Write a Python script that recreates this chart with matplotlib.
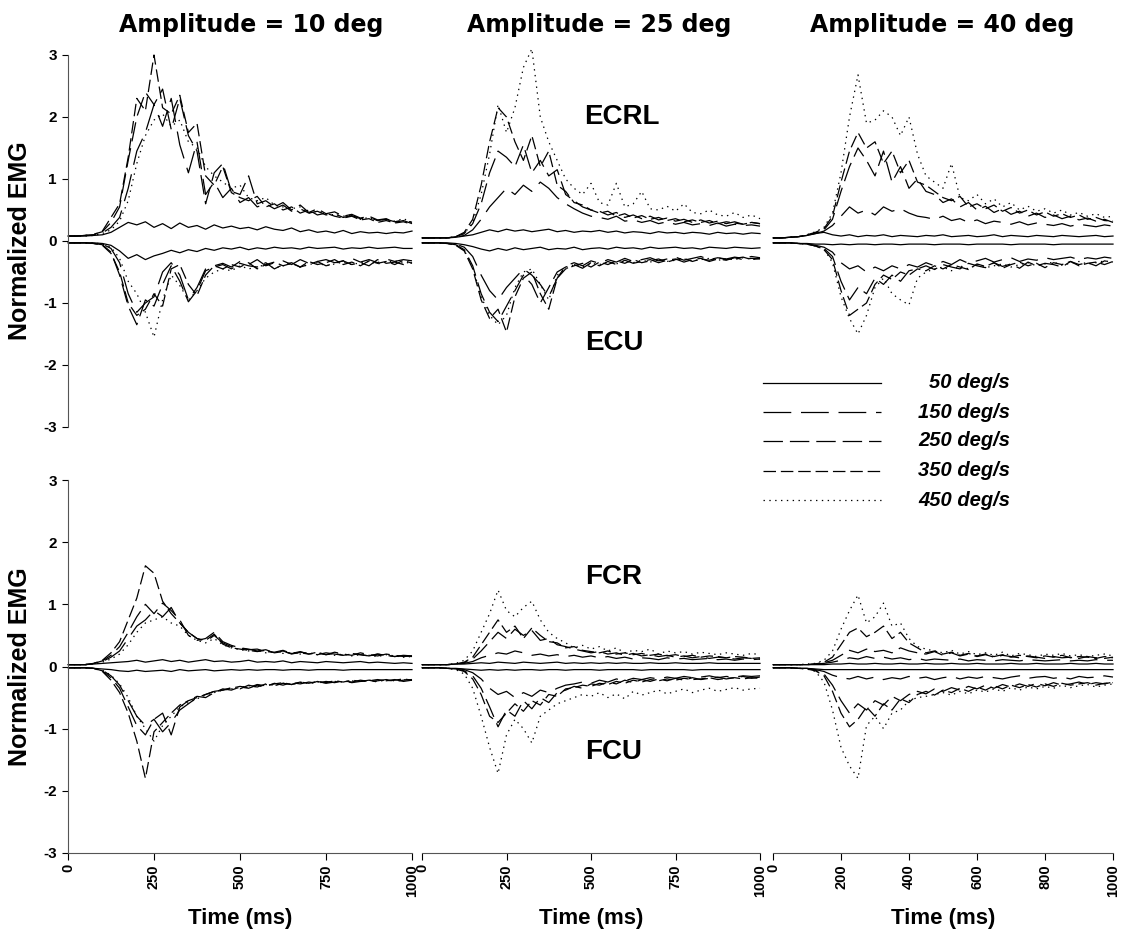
import matplotlib
matplotlib.use('Agg')
import matplotlib.pyplot as plt

plt.rcParams['font.family'] = ['Liberation Sans', 'DejaVu Sans']
plt.rcParams['lines.scale_dashes'] = False

# ---- data (normalized EMG) ----
time_ms = [0, 25, 50, 75, 100, 125, 150, 175, 200, 225, 250, 275, 300, 325, 350, 375, 400,
           425, 450, 475, 500, 525, 550, 575, 600, 625, 650, 675, 700, 725, 750, 775, 800,
           825, 850, 875, 900, 925, 950, 975, 1000]

speed_labels = ['50 deg/s', '150 deg/s', '250 deg/s', '350 deg/s', '450 deg/s']
amplitude_titles = ['Amplitude = 10 deg', 'Amplitude = 25 deg', 'Amplitude = 40 deg']
x_ticks_250 = [0, 250, 500, 750, 1000]
x_ticks_200 = [0, 200, 400, 600, 800, 1000]
y_ticks = [-3, -2, -1, 0, 1, 2, 3]
y_tick_labels = ['-3', '-2', '-1', '0', '1', '2', '3']

# amplitude 10 deg - ECRL (up) / ECU (down)
ecrl_a10_v50 = [0.08,0.08,0.08,0.09,0.10,0.14,0.22,0.30,0.26,0.31,0.22,0.28,0.20,0.29,0.22,0.25,0.19,0.26,0.21,0.24,0.20,0.22,0.18,0.23,0.19,0.17,0.21,0.15,0.18,0.14,0.16,0.13,0.17,0.12,0.15,0.13,0.14,0.12,0.14,0.13,0.16]
ecrl_a10_v150 = [0.08,0.08,0.09,0.10,0.13,0.22,0.38,0.85,1.45,1.75,2.20,1.85,2.30,1.55,1.10,1.60,0.75,0.95,0.70,0.85,0.62,0.70,0.55,0.60,0.52,0.58,0.48,0.52,0.45,0.48,0.42,0.44,0.38,0.41,0.36,0.38,0.33,0.35,0.31,0.34,0.30]
ecrl_a10_v250 = [0.08,0.08,0.09,0.11,0.15,0.30,0.55,1.30,2.00,2.40,2.20,2.45,1.80,2.30,1.70,1.45,0.60,1.10,1.25,0.80,0.75,1.05,0.60,0.65,0.55,0.62,0.50,0.58,0.46,0.52,0.44,0.47,0.40,0.43,0.37,0.40,0.34,0.36,0.30,0.33,0.28]
ecrl_a10_v350 = [0.08,0.08,0.09,0.10,0.16,0.38,0.60,1.35,2.30,2.10,3.00,2.15,2.05,2.35,1.75,1.90,1.05,0.90,1.20,0.78,0.70,0.65,0.72,0.55,0.60,0.50,0.55,0.45,0.50,0.42,0.45,0.40,0.37,0.40,0.34,0.36,0.30,0.33,0.29,0.31,0.27]
ecrl_a10_v450 = [0.08,0.08,0.08,0.09,0.12,0.18,0.32,0.65,1.25,1.70,1.95,2.05,1.85,1.95,1.60,1.50,1.20,1.05,0.95,0.85,0.90,0.70,0.65,0.70,0.58,0.55,0.52,0.55,0.45,0.48,0.44,0.42,0.40,0.42,0.35,0.38,0.33,0.35,0.32,0.36,0.30]
ecu_a10_v50 = [-0.03,-0.03,-0.03,-0.03,-0.04,-0.07,-0.16,-0.28,-0.22,-0.30,-0.24,-0.20,-0.15,-0.19,-0.14,-0.17,-0.12,-0.15,-0.11,-0.13,-0.10,-0.14,-0.11,-0.13,-0.10,-0.12,-0.11,-0.13,-0.10,-0.12,-0.11,-0.10,-0.13,-0.11,-0.12,-0.10,-0.12,-0.11,-0.10,-0.12,-0.12]
ecu_a10_v150 = [-0.03,-0.03,-0.03,-0.04,-0.05,-0.12,-0.35,-0.85,-1.15,-1.00,-0.90,-0.50,-0.35,-0.55,-0.95,-0.75,-0.45,-0.40,-0.36,-0.42,-0.33,-0.38,-0.30,-0.40,-0.35,-0.32,-0.38,-0.30,-0.36,-0.33,-0.30,-0.35,-0.32,-0.28,-0.34,-0.30,-0.35,-0.29,-0.33,-0.30,-0.32]
ecu_a10_v250 = [-0.03,-0.03,-0.03,-0.04,-0.06,-0.18,-0.55,-1.05,-1.35,-0.95,-1.05,-0.70,-0.40,-0.65,-0.98,-0.80,-0.48,-0.42,-0.38,-0.45,-0.36,-0.40,-0.42,-0.35,-0.45,-0.38,-0.35,-0.42,-0.38,-0.33,-0.40,-0.36,-0.32,-0.38,-0.35,-0.40,-0.30,-0.36,-0.34,-0.38,-0.35]
ecu_a10_v350 = [-0.03,-0.03,-0.03,-0.04,-0.07,-0.20,-0.50,-1.00,-1.20,-1.10,-0.85,-1.05,-0.45,-0.38,-0.70,-0.88,-0.55,-0.40,-0.45,-0.38,-0.42,-0.35,-0.45,-0.38,-0.34,-0.40,-0.36,-0.42,-0.33,-0.38,-0.35,-0.30,-0.38,-0.34,-0.40,-0.32,-0.36,-0.33,-0.38,-0.31,-0.36]
ecu_a10_v450 = [-0.03,-0.03,-0.03,-0.03,-0.05,-0.10,-0.28,-0.65,-0.85,-1.15,-1.55,-0.95,-0.55,-0.72,-0.95,-0.80,-0.60,-0.50,-0.45,-0.48,-0.40,-0.45,-0.42,-0.38,-0.44,-0.40,-0.36,-0.42,-0.38,-0.35,-0.40,-0.37,-0.34,-0.38,-0.35,-0.33,-0.37,-0.34,-0.32,-0.36,-0.34]

# amplitude 25 deg - ECRL / ECU
ecrl_a25_v50 = [0.05,0.05,0.05,0.05,0.06,0.08,0.10,0.14,0.18,0.15,0.19,0.16,0.18,0.15,0.17,0.19,0.15,0.17,0.14,0.16,0.15,0.17,0.14,0.16,0.13,0.15,0.14,0.12,0.15,0.13,0.14,0.12,0.14,0.13,0.11,0.14,0.12,0.13,0.11,0.13,0.12]
ecrl_a25_v150 = [0.05,0.05,0.05,0.05,0.06,0.09,0.18,0.35,0.55,0.70,0.85,0.75,0.90,0.80,0.95,0.85,0.70,0.60,0.52,0.45,0.40,0.38,0.35,0.40,0.32,0.34,0.30,0.33,0.28,0.31,0.27,0.30,0.26,0.28,0.25,0.29,0.24,0.27,0.25,0.26,0.24]
ecrl_a25_v250 = [0.05,0.05,0.05,0.05,0.07,0.12,0.28,0.60,1.10,1.45,1.35,1.20,1.55,1.10,1.30,1.05,1.15,0.75,0.65,0.55,0.50,0.48,0.42,0.46,0.38,0.42,0.36,0.40,0.34,0.37,0.32,0.35,0.30,0.34,0.29,0.32,0.28,0.31,0.27,0.30,0.28]
ecrl_a25_v350 = [0.05,0.05,0.05,0.05,0.07,0.14,0.35,0.90,1.60,2.15,2.00,1.60,1.30,1.70,1.20,1.45,0.90,0.80,0.62,0.58,0.50,0.45,0.48,0.40,0.44,0.37,0.41,0.35,0.38,0.33,0.36,0.31,0.34,0.30,0.33,0.28,0.31,0.29,0.27,0.30,0.28]
ecrl_a25_v450 = [0.05,0.05,0.05,0.05,0.07,0.12,0.30,0.75,1.40,2.20,1.75,2.15,2.80,3.10,2.00,1.60,1.30,1.00,0.85,0.75,0.93,0.62,0.58,0.93,0.55,0.60,0.80,0.52,0.50,0.56,0.48,0.60,0.46,0.44,0.50,0.42,0.40,0.46,0.38,0.42,0.36]
ecu_a25_v50 = [-0.03,-0.03,-0.03,-0.03,-0.04,-0.06,-0.09,-0.13,-0.16,-0.12,-0.15,-0.11,-0.14,-0.12,-0.10,-0.14,-0.12,-0.13,-0.10,-0.14,-0.12,-0.11,-0.13,-0.10,-0.12,-0.11,-0.13,-0.10,-0.12,-0.11,-0.10,-0.12,-0.11,-0.13,-0.10,-0.11,-0.12,-0.10,-0.11,-0.12,-0.11]
ecu_a25_v150 = [-0.03,-0.03,-0.03,-0.04,-0.05,-0.10,-0.25,-0.55,-0.80,-0.95,-0.75,-0.60,-0.45,-0.55,-0.70,-0.90,-0.60,-0.40,-0.35,-0.40,-0.32,-0.36,-0.30,-0.34,-0.28,-0.33,-0.30,-0.27,-0.32,-0.29,-0.26,-0.31,-0.28,-0.25,-0.30,-0.27,-0.29,-0.26,-0.28,-0.25,-0.27]
ecu_a25_v250 = [-0.03,-0.03,-0.03,-0.04,-0.06,-0.14,-0.40,-0.85,-1.15,-1.30,-1.05,-0.80,-0.55,-0.70,-1.00,-0.75,-0.50,-0.42,-0.38,-0.44,-0.35,-0.40,-0.33,-0.38,-0.31,-0.36,-0.33,-0.30,-0.35,-0.31,-0.29,-0.34,-0.30,-0.28,-0.33,-0.29,-0.31,-0.27,-0.30,-0.28,-0.29]
ecu_a25_v350 = [-0.03,-0.03,-0.03,-0.04,-0.07,-0.16,-0.45,-0.95,-1.25,-1.10,-1.47,-0.90,-0.60,-0.50,-0.85,-1.10,-0.60,-0.45,-0.40,-0.36,-0.42,-0.34,-0.38,-0.32,-0.36,-0.30,-0.35,-0.32,-0.29,-0.34,-0.30,-0.28,-0.33,-0.29,-0.31,-0.27,-0.30,-0.28,-0.26,-0.30,-0.28]
ecu_a25_v450 = [-0.03,-0.03,-0.03,-0.04,-0.06,-0.15,-0.42,-0.90,-1.20,-1.35,-1.20,-0.75,-0.50,-0.45,-0.70,-0.95,-0.55,-0.45,-0.38,-0.42,-0.36,-0.38,-0.34,-0.37,-0.32,-0.35,-0.31,-0.34,-0.30,-0.33,-0.31,-0.29,-0.32,-0.30,-0.28,-0.31,-0.29,-0.30,-0.27,-0.29,-0.28]

# amplitude 40 deg - ECRL / ECU
ecrl_a40_v50 = [0.05,0.05,0.06,0.07,0.09,0.12,0.14,0.10,0.08,0.10,0.07,0.09,0.08,0.10,0.07,0.09,0.08,0.07,0.09,0.08,0.10,0.07,0.08,0.09,0.07,0.08,0.10,0.07,0.09,0.08,0.07,0.09,0.08,0.07,0.09,0.08,0.07,0.08,0.09,0.07,0.08]
ecrl_a40_v150 = [0.05,0.05,0.06,0.07,0.09,0.12,0.16,0.25,0.40,0.55,0.45,0.50,0.42,0.55,0.48,0.52,0.45,0.40,0.38,0.35,0.40,0.33,0.36,0.30,0.34,0.28,0.32,0.30,0.27,0.31,0.26,0.29,0.27,0.25,0.28,0.24,0.27,0.25,0.23,0.26,0.24]
ecrl_a40_v250 = [0.05,0.05,0.06,0.07,0.09,0.13,0.18,0.35,0.80,1.20,1.50,1.30,1.05,1.45,0.95,1.20,0.85,1.00,0.80,0.75,0.62,0.68,0.55,0.62,0.50,0.56,0.46,0.52,0.43,0.48,0.40,0.45,0.38,0.42,0.36,0.40,0.34,0.37,0.32,0.35,0.30]
ecrl_a40_v350 = [0.05,0.05,0.06,0.07,0.10,0.14,0.20,0.40,0.95,1.45,1.75,1.50,1.60,1.25,1.45,1.10,1.30,0.95,0.90,0.80,0.70,0.65,0.72,0.55,0.60,0.52,0.58,0.48,0.54,0.45,0.50,0.42,0.47,0.40,0.44,0.38,0.42,0.35,0.38,0.33,0.32]
ecrl_a40_v450 = [0.05,0.05,0.06,0.07,0.10,0.15,0.22,0.45,1.10,2.00,2.68,1.90,1.95,2.10,2.00,1.70,2.00,1.40,1.05,0.95,0.85,1.25,0.70,0.65,0.75,0.60,0.68,0.55,0.62,0.50,0.56,0.48,0.52,0.45,0.50,0.42,0.46,0.40,0.44,0.38,0.40]
ecu_a40_v50 = [-0.03,-0.03,-0.03,-0.04,-0.04,-0.05,-0.05,-0.06,-0.05,-0.06,-0.05,-0.05,-0.06,-0.05,-0.05,-0.06,-0.05,-0.05,-0.05,-0.06,-0.05,-0.05,-0.05,-0.06,-0.05,-0.05,-0.05,-0.05,-0.06,-0.05,-0.05,-0.05,-0.05,-0.06,-0.05,-0.05,-0.05,-0.05,-0.05,-0.05,-0.05]
ecu_a40_v150 = [-0.03,-0.03,-0.03,-0.04,-0.05,-0.07,-0.10,-0.18,-0.35,-0.45,-0.40,-0.50,-0.42,-0.48,-0.40,-0.45,-0.38,-0.42,-0.35,-0.40,-0.33,-0.38,-0.30,-0.36,-0.32,-0.28,-0.34,-0.30,-0.27,-0.33,-0.29,-0.31,-0.27,-0.30,-0.28,-0.26,-0.30,-0.27,-0.29,-0.26,-0.28]
ecu_a40_v250 = [-0.03,-0.03,-0.03,-0.04,-0.05,-0.08,-0.12,-0.25,-0.65,-0.95,-0.75,-0.85,-0.60,-0.70,-0.55,-0.65,-0.48,-0.45,-0.40,-0.46,-0.38,-0.42,-0.45,-0.36,-0.40,-0.43,-0.35,-0.41,-0.37,-0.44,-0.34,-0.40,-0.36,-0.38,-0.42,-0.33,-0.38,-0.35,-0.40,-0.32,-0.35]
ecu_a40_v350 = [-0.03,-0.03,-0.03,-0.04,-0.05,-0.08,-0.14,-0.30,-0.80,-1.20,-1.10,-1.00,-0.70,-0.55,-0.62,-0.50,-0.55,-0.45,-0.48,-0.40,-0.45,-0.38,-0.42,-0.46,-0.37,-0.41,-0.35,-0.44,-0.38,-0.34,-0.40,-0.36,-0.43,-0.35,-0.38,-0.33,-0.40,-0.36,-0.34,-0.38,-0.33]
ecu_a40_v450 = [-0.03,-0.03,-0.03,-0.04,-0.05,-0.08,-0.13,-0.35,-0.90,-1.25,-1.50,-1.20,-0.75,-0.60,-0.85,-0.95,-1.03,-0.60,-0.50,-0.45,-0.42,-0.48,-0.40,-0.45,-0.38,-0.43,-0.40,-0.37,-0.42,-0.38,-0.35,-0.40,-0.37,-0.34,-0.39,-0.36,-0.33,-0.37,-0.35,-0.32,-0.34]

# amplitude 10 deg - FCR / FCU
fcr_a10_v50 = [0.03,0.03,0.03,0.04,0.05,0.06,0.07,0.08,0.10,0.07,0.09,0.11,0.08,0.10,0.07,0.09,0.11,0.08,0.09,0.07,0.08,0.10,0.07,0.08,0.07,0.09,0.06,0.08,0.07,0.06,0.08,0.07,0.06,0.07,0.08,0.06,0.07,0.06,0.05,0.06,0.05]
fcr_a10_v150 = [0.03,0.03,0.03,0.05,0.08,0.15,0.25,0.45,0.65,0.75,0.90,0.80,0.95,0.70,0.55,0.45,0.40,0.50,0.38,0.32,0.30,0.28,0.25,0.27,0.22,0.25,0.20,0.23,0.21,0.19,0.22,0.20,0.18,0.21,0.19,0.17,0.20,0.18,0.16,0.18,0.17]
fcr_a10_v250 = [0.03,0.03,0.03,0.05,0.09,0.18,0.32,0.55,0.80,1.00,0.85,1.02,0.90,0.75,0.50,0.42,0.45,0.55,0.40,0.34,0.30,0.27,0.28,0.24,0.23,0.26,0.21,0.24,0.20,0.22,0.19,0.23,0.20,0.18,0.22,0.19,0.17,0.20,0.18,0.16,0.17]
fcr_a10_v350 = [0.03,0.03,0.03,0.05,0.10,0.22,0.40,0.75,1.10,1.62,1.50,1.05,0.85,0.70,0.55,0.45,0.42,0.52,0.36,0.30,0.28,0.26,0.24,0.26,0.22,0.24,0.21,0.22,0.20,0.23,0.19,0.21,0.18,0.20,0.19,0.17,0.20,0.18,0.16,0.18,0.16]
fcr_a10_v450 = [0.03,0.03,0.03,0.04,0.07,0.12,0.20,0.35,0.55,0.70,0.75,0.80,0.70,0.65,0.50,0.42,0.38,0.45,0.35,0.30,0.27,0.25,0.26,0.22,0.24,0.21,0.23,0.20,0.22,0.19,0.21,0.18,0.20,0.17,0.19,0.18,0.16,0.19,0.17,0.15,0.16]
fcu_a10_v50 = [-0.02,-0.02,-0.02,-0.03,-0.04,-0.05,-0.07,-0.08,-0.06,-0.08,-0.07,-0.06,-0.08,-0.05,-0.07,-0.06,-0.05,-0.07,-0.06,-0.05,-0.06,-0.05,-0.06,-0.05,-0.05,-0.06,-0.05,-0.05,-0.06,-0.05,-0.05,-0.05,-0.06,-0.05,-0.05,-0.05,-0.05,-0.05,-0.05,-0.05,-0.05]
fcu_a10_v150 = [-0.02,-0.02,-0.02,-0.03,-0.06,-0.15,-0.30,-0.55,-0.80,-0.95,-0.85,-1.05,-0.90,-0.70,-0.60,-0.50,-0.45,-0.40,-0.38,-0.34,-0.36,-0.30,-0.33,-0.28,-0.31,-0.27,-0.29,-0.25,-0.28,-0.24,-0.27,-0.25,-0.23,-0.26,-0.24,-0.22,-0.25,-0.23,-0.21,-0.24,-0.22]
fcu_a10_v250 = [-0.02,-0.02,-0.02,-0.03,-0.07,-0.18,-0.35,-0.65,-0.95,-1.10,-0.85,-0.75,-1.10,-0.65,-0.55,-0.48,-0.50,-0.42,-0.36,-0.38,-0.33,-0.35,-0.30,-0.32,-0.27,-0.30,-0.26,-0.28,-0.25,-0.27,-0.24,-0.26,-0.23,-0.25,-0.22,-0.24,-0.23,-0.21,-0.24,-0.22,-0.21]
fcu_a10_v350 = [-0.02,-0.02,-0.02,-0.03,-0.08,-0.22,-0.42,-0.75,-1.20,-1.80,-1.05,-0.90,-0.75,-0.62,-0.55,-0.50,-0.45,-0.40,-0.38,-0.35,-0.32,-0.34,-0.29,-0.31,-0.28,-0.26,-0.29,-0.25,-0.27,-0.24,-0.26,-0.23,-0.25,-0.22,-0.24,-0.23,-0.21,-0.23,-0.22,-0.20,-0.22]
fcu_a10_v450 = [-0.02,-0.02,-0.02,-0.03,-0.06,-0.14,-0.28,-0.50,-0.80,-1.00,-1.20,-0.95,-0.80,-0.65,-0.58,-0.52,-0.46,-0.42,-0.38,-0.36,-0.34,-0.31,-0.33,-0.29,-0.30,-0.27,-0.29,-0.26,-0.27,-0.25,-0.26,-0.24,-0.25,-0.23,-0.24,-0.22,-0.24,-0.22,-0.23,-0.21,-0.22]

# amplitude 25 deg - FCR / FCU
fcr_a25_v50 = [0.03,0.03,0.03,0.03,0.04,0.04,0.05,0.06,0.05,0.07,0.06,0.05,0.07,0.06,0.05,0.06,0.07,0.05,0.06,0.05,0.06,0.05,0.06,0.05,0.06,0.05,0.05,0.06,0.05,0.05,0.06,0.05,0.05,0.05,0.06,0.05,0.05,0.05,0.05,0.05,0.05]
fcr_a25_v150 = [0.03,0.03,0.03,0.03,0.04,0.05,0.08,0.14,0.18,0.22,0.20,0.25,0.22,0.18,0.20,0.17,0.19,0.16,0.18,0.15,0.17,0.14,0.16,0.13,0.15,0.12,0.14,0.13,0.11,0.14,0.12,0.13,0.11,0.12,0.13,0.11,0.12,0.10,0.12,0.11,0.12]
fcr_a25_v250 = [0.03,0.03,0.03,0.03,0.04,0.06,0.12,0.25,0.40,0.55,0.45,0.60,0.50,0.58,0.42,0.45,0.35,0.32,0.28,0.25,0.22,0.24,0.20,0.22,0.18,0.21,0.17,0.19,0.16,0.18,0.15,0.17,0.14,0.16,0.13,0.15,0.14,0.12,0.14,0.13,0.12]
fcr_a25_v350 = [0.03,0.03,0.03,0.03,0.04,0.07,0.15,0.35,0.55,0.75,0.55,0.65,0.45,0.62,0.50,0.40,0.38,0.30,0.32,0.26,0.24,0.22,0.25,0.20,0.22,0.19,0.21,0.18,0.20,0.17,0.19,0.16,0.18,0.15,0.17,0.16,0.14,0.16,0.15,0.13,0.14]
fcr_a25_v450 = [0.03,0.03,0.03,0.03,0.05,0.10,0.25,0.55,0.85,1.23,0.90,0.80,0.95,1.05,0.75,0.55,0.45,0.38,0.30,0.34,0.28,0.32,0.25,0.30,0.22,0.26,0.24,0.28,0.20,0.25,0.22,0.24,0.20,0.23,0.21,0.19,0.22,0.20,0.18,0.21,0.19]
fcu_a25_v50 = [-0.02,-0.02,-0.02,-0.03,-0.03,-0.04,-0.05,-0.06,-0.05,-0.06,-0.05,-0.06,-0.05,-0.05,-0.06,-0.05,-0.05,-0.06,-0.05,-0.05,-0.05,-0.06,-0.05,-0.05,-0.05,-0.05,-0.06,-0.05,-0.05,-0.05,-0.05,-0.05,-0.06,-0.05,-0.05,-0.05,-0.05,-0.05,-0.05,-0.05,-0.05]
fcu_a25_v150 = [-0.02,-0.02,-0.02,-0.03,-0.03,-0.05,-0.10,-0.20,-0.35,-0.45,-0.40,-0.50,-0.42,-0.48,-0.38,-0.42,-0.35,-0.30,-0.28,-0.25,-0.27,-0.22,-0.25,-0.20,-0.23,-0.19,-0.21,-0.18,-0.20,-0.17,-0.19,-0.16,-0.18,-0.17,-0.15,-0.18,-0.16,-0.17,-0.15,-0.16,-0.15]
fcu_a25_v250 = [-0.02,-0.02,-0.02,-0.03,-0.04,-0.07,-0.15,-0.35,-0.65,-0.97,-0.70,-0.80,-0.55,-0.68,-0.50,-0.58,-0.42,-0.38,-0.32,-0.35,-0.28,-0.30,-0.25,-0.28,-0.22,-0.26,-0.21,-0.24,-0.20,-0.23,-0.19,-0.22,-0.18,-0.21,-0.19,-0.17,-0.20,-0.18,-0.16,-0.19,-0.17]
fcu_a25_v350 = [-0.02,-0.02,-0.02,-0.03,-0.04,-0.08,-0.20,-0.45,-0.80,-0.90,-0.75,-0.60,-0.72,-0.55,-0.62,-0.45,-0.48,-0.36,-0.34,-0.30,-0.32,-0.27,-0.29,-0.24,-0.27,-0.22,-0.25,-0.21,-0.23,-0.20,-0.22,-0.19,-0.21,-0.20,-0.18,-0.21,-0.19,-0.18,-0.20,-0.18,-0.19]
fcu_a25_v450 = [-0.02,-0.02,-0.02,-0.03,-0.05,-0.12,-0.35,-0.80,-1.30,-1.72,-1.10,-0.85,-1.00,-1.23,-0.80,-0.70,-0.60,-0.55,-0.50,-0.45,-0.48,-0.42,-0.50,-0.44,-0.52,-0.40,-0.46,-0.42,-0.38,-0.44,-0.40,-0.36,-0.42,-0.38,-0.35,-0.40,-0.37,-0.34,-0.38,-0.36,-0.35]

# amplitude 40 deg - FCR / FCU
fcr_a40_v50 = [0.03,0.03,0.03,0.03,0.03,0.03,0.03,0.04,0.04,0.05,0.04,0.04,0.05,0.04,0.04,0.05,0.04,0.04,0.05,0.04,0.04,0.05,0.04,0.04,0.05,0.04,0.04,0.04,0.05,0.04,0.04,0.05,0.04,0.04,0.04,0.05,0.04,0.04,0.05,0.04,0.04]
fcr_a40_v150 = [0.03,0.03,0.03,0.03,0.03,0.04,0.05,0.07,0.10,0.14,0.12,0.16,0.13,0.15,0.12,0.14,0.11,0.13,0.10,0.12,0.11,0.10,0.12,0.09,0.11,0.10,0.09,0.11,0.10,0.09,0.11,0.10,0.09,0.10,0.11,0.09,0.10,0.09,0.11,0.10,0.10]
fcr_a40_v250 = [0.03,0.03,0.03,0.03,0.03,0.04,0.06,0.10,0.18,0.26,0.22,0.28,0.24,0.26,0.22,0.30,0.25,0.22,0.20,0.24,0.18,0.22,0.17,0.20,0.16,0.19,0.15,0.18,0.16,0.14,0.17,0.15,0.13,0.16,0.14,0.15,0.13,0.16,0.14,0.13,0.15]
fcr_a40_v350 = [0.03,0.03,0.03,0.03,0.03,0.04,0.07,0.15,0.35,0.55,0.62,0.48,0.55,0.65,0.45,0.55,0.38,0.30,0.22,0.25,0.20,0.23,0.18,0.21,0.17,0.20,0.16,0.19,0.15,0.18,0.16,0.14,0.17,0.15,0.18,0.14,0.16,0.15,0.13,0.16,0.14]
fcr_a40_v450 = [0.03,0.03,0.03,0.03,0.04,0.05,0.10,0.25,0.60,0.90,1.15,0.70,0.80,1.02,0.65,0.70,0.45,0.32,0.28,0.25,0.22,0.26,0.20,0.24,0.19,0.22,0.18,0.23,0.17,0.21,0.19,0.16,0.20,0.18,0.21,0.17,0.19,0.16,0.18,0.20,0.17]
fcu_a40_v50 = [-0.02,-0.02,-0.02,-0.03,-0.03,-0.04,-0.05,-0.05,-0.05,-0.05,-0.05,-0.05,-0.05,-0.05,-0.05,-0.05,-0.05,-0.05,-0.05,-0.05,-0.05,-0.05,-0.05,-0.05,-0.05,-0.05,-0.05,-0.05,-0.05,-0.05,-0.05,-0.05,-0.05,-0.05,-0.05,-0.05,-0.05,-0.05,-0.05,-0.05,-0.05]
fcu_a40_v150 = [-0.02,-0.02,-0.02,-0.03,-0.03,-0.05,-0.08,-0.14,-0.18,-0.20,-0.16,-0.20,-0.17,-0.21,-0.18,-0.20,-0.16,-0.19,-0.17,-0.21,-0.18,-0.16,-0.20,-0.17,-0.19,-0.16,-0.18,-0.20,-0.17,-0.15,-0.19,-0.17,-0.16,-0.19,-0.17,-0.20,-0.16,-0.18,-0.17,-0.15,-0.17]
fcu_a40_v250 = [-0.02,-0.02,-0.02,-0.03,-0.03,-0.06,-0.12,-0.30,-0.55,-0.75,-0.60,-0.70,-0.55,-0.62,-0.48,-0.55,-0.45,-0.40,-0.44,-0.36,-0.40,-0.34,-0.38,-0.32,-0.36,-0.30,-0.35,-0.29,-0.33,-0.28,-0.32,-0.27,-0.31,-0.26,-0.30,-0.28,-0.25,-0.29,-0.26,-0.28,-0.25]
fcu_a40_v350 = [-0.02,-0.02,-0.02,-0.03,-0.04,-0.07,-0.15,-0.40,-0.75,-0.97,-0.85,-0.65,-0.80,-0.60,-0.70,-0.52,-0.58,-0.45,-0.40,-0.46,-0.38,-0.42,-0.35,-0.40,-0.33,-0.38,-0.31,-0.36,-0.30,-0.34,-0.29,-0.33,-0.28,-0.32,-0.27,-0.30,-0.28,-0.26,-0.30,-0.27,-0.26]
fcu_a40_v450 = [-0.02,-0.02,-0.02,-0.03,-0.04,-0.08,-0.25,-0.70,-1.30,-1.60,-1.80,-0.95,-0.80,-1.00,-0.75,-0.70,-0.55,-0.50,-0.48,-0.45,-0.42,-0.46,-0.40,-0.44,-0.38,-0.41,-0.36,-0.40,-0.34,-0.38,-0.33,-0.36,-0.32,-0.35,-0.30,-0.34,-0.31,-0.29,-0.33,-0.30,-0.28]

# ---- styles ----
speed_styles = ['-', (0, (20, 7)), (0, (14, 5)), (0, (9, 3.5)), (0, (1, 3.2))]
LW = 0.9
WIDE = ['DejaVu Sans']

W, H = 1121, 942


# convert a pixel box (left, top, right, bottom) to figure fraction
def px_rect(x0, y0, x1, y1):
    return [x0 / W, 1 - y1 / H, (x1 - x0) / W, (y1 - y0) / H]


col_px = [(68, 412), (422, 760), (773, 1113)]
row_px = [(55, 427), (480, 853)]

# traces per panel (row, col): up muscle and down muscle, ordered by speed
panel_traces = {
    (0, 0): [ecrl_a10_v50, ecrl_a10_v150, ecrl_a10_v250, ecrl_a10_v350, ecrl_a10_v450,
             ecu_a10_v50, ecu_a10_v150, ecu_a10_v250, ecu_a10_v350, ecu_a10_v450],
    (0, 1): [ecrl_a25_v50, ecrl_a25_v150, ecrl_a25_v250, ecrl_a25_v350, ecrl_a25_v450,
             ecu_a25_v50, ecu_a25_v150, ecu_a25_v250, ecu_a25_v350, ecu_a25_v450],
    (0, 2): [ecrl_a40_v50, ecrl_a40_v150, ecrl_a40_v250, ecrl_a40_v350, ecrl_a40_v450,
             ecu_a40_v50, ecu_a40_v150, ecu_a40_v250, ecu_a40_v350, ecu_a40_v450],
    (1, 0): [fcr_a10_v50, fcr_a10_v150, fcr_a10_v250, fcr_a10_v350, fcr_a10_v450,
             fcu_a10_v50, fcu_a10_v150, fcu_a10_v250, fcu_a10_v350, fcu_a10_v450],
    (1, 1): [fcr_a25_v50, fcr_a25_v150, fcr_a25_v250, fcr_a25_v350, fcr_a25_v450,
             fcu_a25_v50, fcu_a25_v150, fcu_a25_v250, fcu_a25_v350, fcu_a25_v450],
    (1, 2): [fcr_a40_v50, fcr_a40_v150, fcr_a40_v250, fcr_a40_v350, fcr_a40_v450,
             fcu_a40_v50, fcu_a40_v150, fcu_a40_v250, fcu_a40_v350, fcu_a40_v450],
}

fig = plt.figure(figsize=(W / 100, H / 100), dpi=100)

axes = {}
for (r, c), traces in panel_traces.items():
    x0, x1 = col_px[c]
    y0, y1 = row_px[r]
    ax = fig.add_axes(px_rect(x0, y0, x1, y1))
    axes[(r, c)] = ax
    # draw slow traces last so the solid line stays visible
    for k in [4, 3, 2, 1, 0]:
        for vals in (traces[k], traces[k + 5]):
            ax.plot(time_ms, vals, color='black', lw=LW, linestyle=speed_styles[k],
                    clip_on=False)
    ax.set_xlim(0, 1000)
    ax.set_ylim(-3, 3)
    for s in ['top', 'right']:
        ax.spines[s].set_visible(False)

    if c == 0:
        ax.spines['left'].set_linewidth(0.8)
        ax.spines['left'].set_color('#555555')
        ax.set_yticks(y_ticks)
        ax.set_yticklabels(y_tick_labels, fontsize=11, fontweight='bold')
        ax.tick_params(axis='y', direction='out', length=4, width=0.8, pad=4)
        ax.set_ylabel('Normalized EMG', fontsize=18, fontweight='bold', labelpad=8)
    else:
        ax.spines['left'].set_visible(False)
        ax.set_yticks([])

    if r == 1:
        ax.spines['bottom'].set_linewidth(0.8)
        ax.spines['bottom'].set_color('#555555')
        ticks = x_ticks_200 if c == 2 else x_ticks_250
        ax.set_xticks(ticks)
        ax.set_xticklabels([str(t) for t in ticks], rotation=90, fontsize=10.5,
                           fontweight='bold')
        ax.tick_params(axis='x', direction='out', length=5, width=0.8, pad=3)
        ax.set_xlabel('Time (ms)', fontsize=16, fontweight='bold', labelpad=8)
    else:
        ax.spines['bottom'].set_visible(False)
        ax.set_xticks([])

# column titles
for c, title in enumerate(amplitude_titles):
    cx = [251, 599, 942][c]
    fig.text(cx / W, 1 - 25 / H, title, ha='center', va='center', fontsize=17,
             fontweight='bold', family=WIDE)

# muscle labels in the middle column
axm_top = axes[(0, 1)]
axm_bot = axes[(1, 1)]
axm_top.text(590, 2.0, 'ECRL', ha='center', va='center', fontsize=20, fontweight='bold')
axm_top.text(568, -1.65, 'ECU', ha='center', va='center', fontsize=20, fontweight='bold')
axm_bot.text(568, 1.44, 'FCR', ha='center', va='center', fontsize=20, fontweight='bold')
axm_bot.text(568, -1.38, 'FCU', ha='center', va='center', fontsize=20, fontweight='bold')

# legend (drawn in its own frameless axes)
leg_ax = fig.add_axes(px_rect(755, 368, 1020, 515))
leg_ax.set_xlim(755, 1020)
leg_ax.set_ylim(515, 368)
leg_ax.axis('off')
leg_rows = [383, 412, 441, 471, 500]
for k, label in enumerate(speed_labels):
    yy = leg_rows[k]
    leg_ax.plot([763, 881], [yy, yy], color='black', lw=LW, linestyle=speed_styles[k])
    leg_ax.text(1010, yy, label, ha='right', va='center', fontsize=14.5,
                fontweight='bold', fontstyle='italic')

fig.savefig('out.png', dpi=100)
